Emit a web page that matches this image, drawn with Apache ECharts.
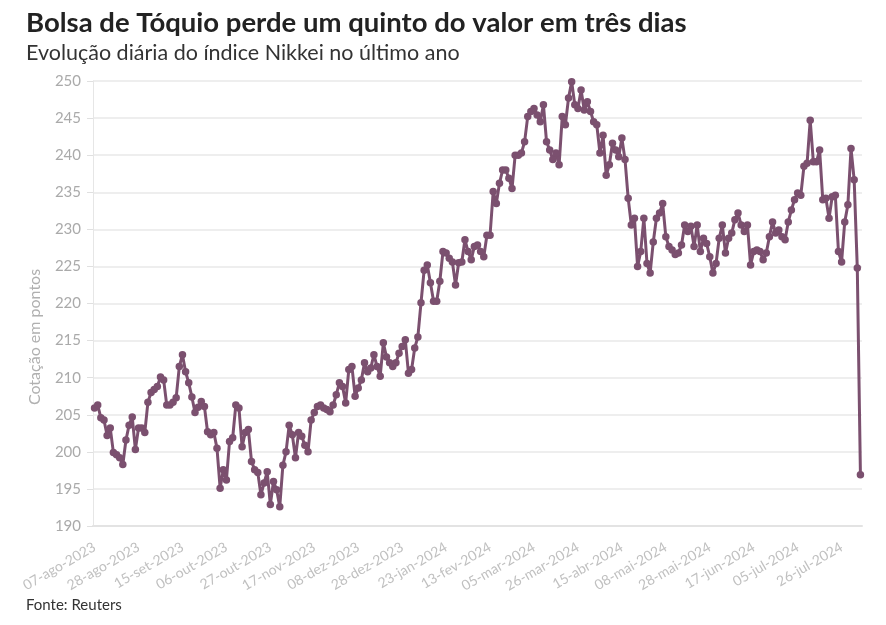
<!DOCTYPE html>
<html>
<head>
<meta charset="utf-8">
<script src="https://cdn.jsdelivr.net/npm/echarts@6/dist/echarts.min.js"></script>
<style>
  html, body { margin: 0; padding: 0; background: #fff; }
  #nikkei { width: 886px; height: 625px; }
</style>
</head>
<body>
<div id="nikkei"></div>
<script>
// dias de pregão: primeiro e último dia, feriados da bolsa de Tóquio
const inicio = '2023-08-07';
const fim = '2024-08-05';
const feriados = ['2023-08-11', '2023-09-18', '2023-10-09', '2023-11-03', '2023-11-23',
  '2024-01-01', '2024-01-02', '2024-01-03', '2024-01-08', '2024-02-12', '2024-02-23',
  '2024-03-20', '2024-04-29', '2024-05-03', '2024-05-06', '2024-07-15'];
const meses = ['jan', 'fev', 'mar', 'abr', 'mai', 'jun', 'jul', 'ago', 'set', 'out', 'nov', 'dez'];

// cotação diária (pontos)
const valores = [
  205.9, 206.3, 204.6, 204.3, 202.2, 203.2, 199.9, 199.6, 199.2, 198.3,
  201.6, 203.6, 204.7, 200.3, 203.2, 203.2, 202.6, 206.7, 208.0, 208.4,
  208.8, 210.1, 209.7, 206.3, 206.3, 206.7, 207.3, 211.5, 213.1, 210.8,
  209.3, 207.4, 205.3, 206.0, 206.8, 206.1, 202.7, 202.3, 202.6, 200.5,
  195.1, 197.6, 196.2, 201.4, 201.9, 206.3, 205.9, 200.7, 202.6, 203.0,
  198.7, 197.6, 197.2, 194.2, 195.8, 197.3, 192.9, 196.0, 194.9, 192.6,
  198.2, 200.0, 203.6, 202.3, 199.2, 202.6, 202.1, 200.9, 200.0, 204.3,
  205.3, 206.1, 206.3, 205.9, 205.7, 205.4, 206.3, 207.7, 209.3, 208.8,
  206.6, 211.1, 211.5, 207.5, 208.6, 209.7, 212.0, 210.8, 211.3, 213.1,
  211.5, 210.2, 214.7, 212.8, 212.0, 211.5, 212.0, 213.3, 214.2, 215.1,
  210.6, 211.1, 214.0, 215.5, 220.1, 224.5, 225.2, 222.8, 220.3, 220.3,
  223.0, 227.0, 226.8, 226.1, 225.6, 222.5, 225.5, 225.6, 228.6, 227.0,
  225.9, 227.7, 227.9, 227.0, 226.3, 229.2, 229.2, 235.1, 233.5, 236.2,
  238.0, 238.0, 236.9, 235.5, 240.0, 240.0, 240.3, 241.8, 245.2, 245.9,
  246.3, 245.4, 244.5, 246.8, 241.8, 240.7, 239.4, 240.3, 238.7, 245.2,
  244.1, 247.7, 249.9, 246.8, 246.3, 248.8, 246.1, 247.2, 245.9, 244.5,
  244.1, 240.3, 242.7, 237.3, 238.7, 241.6, 240.7, 239.8, 242.3, 239.4,
  234.2, 230.6, 231.5, 225.0, 227.0, 231.5, 225.4, 224.1, 228.3, 231.5,
  232.2, 233.5, 229.0, 227.7, 227.2, 226.6, 226.8, 227.9, 230.6, 229.7,
  230.4, 227.7, 230.6, 227.0, 228.8, 228.1, 226.3, 224.1, 225.4, 228.8,
  230.6, 226.8, 228.8, 229.5, 231.3, 232.2, 230.6, 229.7, 230.6, 225.2,
  227.0, 227.2, 227.0, 225.9, 226.8, 229.0, 231.0, 229.5, 229.9, 229.0,
  228.6, 231.0, 232.6, 234.0, 234.9, 234.6, 238.5, 238.9, 244.7, 239.1,
  239.1, 240.7, 234.0, 234.2, 231.5, 234.4, 234.6, 227.0, 225.6, 231.0,
  233.3, 240.9, 236.7, 224.8, 196.9
];

// monta as datas dos pregões (dias úteis sem feriados)
const getDatas = () => {
  const datas = [];
  const d = new Date(inicio + 'T00:00:00Z');
  const ultimo = new Date(fim + 'T00:00:00Z');
  while (d <= ultimo) {
    const iso = d.toISOString().slice(0, 10);
    const dia = d.getUTCDay();
    if (dia !== 0 && dia !== 6 && !feriados.includes(iso)) {
      const dd = String(d.getUTCDate()).padStart(2, '0');
      datas.push(`${dd}-${meses[d.getUTCMonth()]}-${d.getUTCFullYear()}`);
    }
    d.setUTCDate(d.getUTCDate() + 1);
  }
  return datas;
};

const datas = getDatas();
const fonte = 'Lato, "Noto Sans", sans-serif';

const chart = echarts.init(document.getElementById('nikkei'));
const option = {
  backgroundColor: '#fff',
  textStyle: { fontFamily: fonte },
  title: [
    {
      text: 'Bolsa de Tóquio perde um quinto do valor em três dias',
      left: 21, top: 4,
      textStyle: { fontFamily: fonte, fontSize: 27.5, fontWeight: 'bold', color: '#222' }
    },
    {
      text: 'Evolução diária do índice Nikkei no último ano',
      left: 21, top: 37,
      textStyle: { fontFamily: fonte, fontSize: 21.5, fontWeight: 'normal', color: '#333' }
    }
  ],
  graphic: [
    {
      // título do eixo y, um pouco abaixo do centro como no original
      type: 'text', x: 35, y: 337, rotation: Math.PI / 2,
      style: {
        text: 'Cotação em pontos', font: '16px Lato, "Noto Sans", sans-serif',
        fill: '#b0b0b0', textAlign: 'center', textVerticalAlign: 'middle'
      }
    },
    {
      type: 'text', left: 26, top: 598,
      style: { text: 'Fonte: Reuters', font: '15px Lato, "Noto Sans", sans-serif', fill: '#333' }
    }
  ],
  grid: { left: 93, right: 24, top: 81, bottom: 99, containLabel: false },
  xAxis: {
    type: 'category',
    data: datas,
    boundaryGap: true,
    axisLine: { lineStyle: { color: '#e3e3e3', width: 2 } },
    axisTick: { interval: 0, length: 7, lineStyle: { color: '#d9d9d9' } },
    axisLabel: { interval: 13, rotate: 30, color: '#c0c0c0', fontSize: 14, margin: 20, fontFamily: fonte }
  },
  yAxis: {
    type: 'value',
    min: 190, max: 250, interval: 5,
    axisLine: { show: true, lineStyle: { color: '#e6e6e6' } },
    axisTick: { show: true, length: 6, lineStyle: { color: '#e0e0e0' } },
    axisLabel: { color: '#aaa', fontSize: 15, margin: 12, fontFamily: fonte },
    splitLine: { lineStyle: { color: '#e8e8e8', width: 1.5 } }
  },
  series: [
    {
      name: 'Nikkei',
      type: 'line',
      data: valores,
      symbol: 'circle',
      symbolSize: 7.5,
      showAllSymbol: true,
      lineStyle: { color: '#7b506f', width: 3 },
      itemStyle: { color: '#7b506f' },
      animation: false
    }
  ]
};
chart.setOption(option);
</script>
</body>
</html>
